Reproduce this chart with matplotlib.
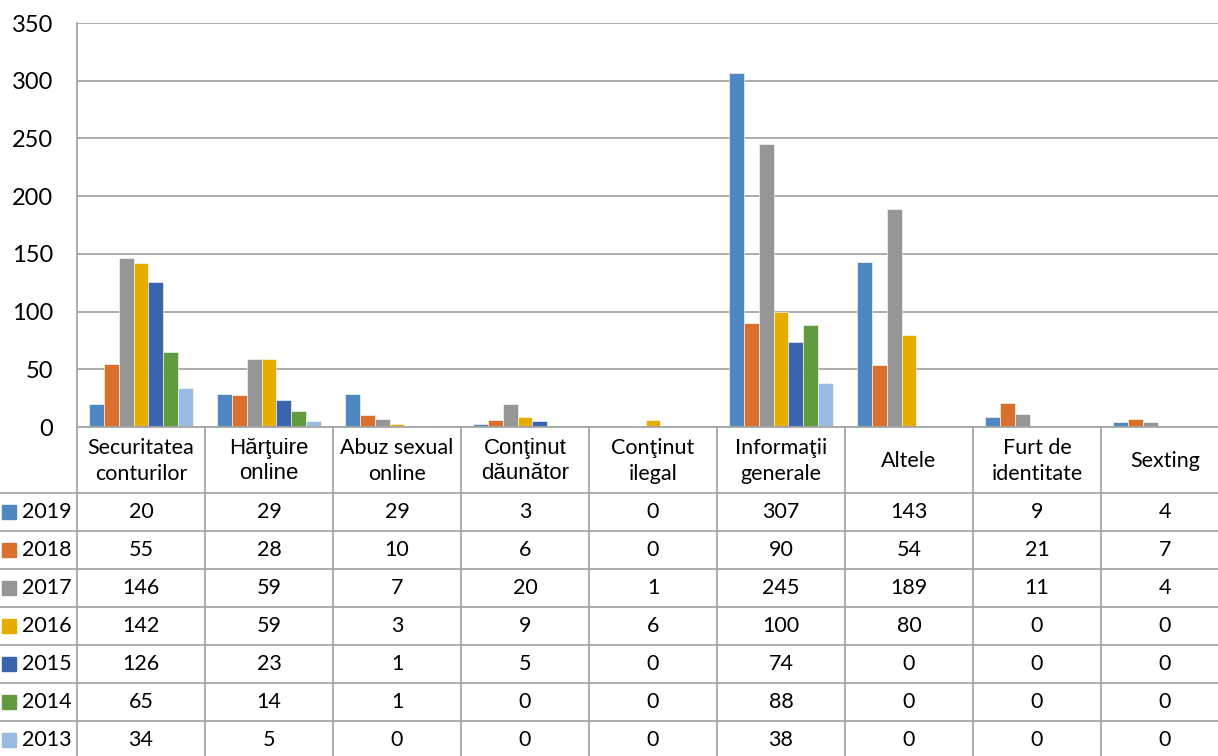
import numpy as np
import matplotlib.pyplot as plt

# categories (header of the data table)
categories = ['Securitatea\nconturilor', 'Hărţuire\nonline', 'Abuz sexual\nonline',
              'Conţinut\ndăunător', 'Conţinut\nilegal', 'Informaţii\ngenerale',
              'Altele', 'Furt de\nidentitate', 'Sexting']
years = ['2019', '2018', '2017', '2016', '2015', '2014', '2013']

v2019 = [20, 29, 29, 3, 0, 307, 143, 9, 4]
v2018 = [55, 28, 10, 6, 0, 90, 54, 21, 7]
v2017 = [146, 59, 7, 20, 1, 245, 189, 11, 4]
v2016 = [142, 59, 3, 9, 6, 100, 80, 0, 0]
v2015 = [126, 23, 1, 5, 0, 74, 0, 0, 0]
v2014 = [65, 14, 1, 0, 0, 88, 0, 0, 0]
v2013 = [34, 5, 0, 0, 0, 38, 0, 0, 0]
series = [v2019, v2018, v2017, v2016, v2015, v2014, v2013]

colors = ['#4f88c0', '#d9702e', '#969696', '#e6ac00', '#3a64ad', '#629a40', '#99bbe0']
line_col = '#a6a6a6'
font = 'Lato'

W, H = 1218, 756
fig = plt.figure(figsize=(W / 100, H / 100), dpi=100)

# pixel layout
x0, colw = 77, 128
y_top, y_zero = 23, 427
y_head_end, rowh = 493, 38

ax = fig.add_axes([x0 / W, (H - y_zero) / H, colw * 9 / W, (y_zero - y_top) / H])
n = len(categories)
x = np.arange(n)
bw = 0.117
for i, (vals, c) in enumerate(zip(series, colors)):
    ax.bar(x + (i - 3) * bw, vals, bw, color=c, edgecolor='white', linewidth=0.4, zorder=3)

ax.set_xlim(-0.5, n - 0.5)
ax.set_ylim(0, 350)
ax.set_yticks(np.arange(0, 351, 50))
ax.set_xticks([])
ax.tick_params(axis='y', length=0, pad=17, labelsize=17)
for lab in ax.get_yticklabels():
    lab.set_family(font)
ax.grid(axis='y', color=line_col, linewidth=1.3, zorder=0)
for s in ['top', 'right', 'bottom']:
    ax.spines[s].set_visible(False)
ax.spines['left'].set_color(line_col)
ax.spines['left'].set_linewidth(1.3)

# data table drawn in pixel coordinates
tab = fig.add_axes([0, 0, 1, 1], zorder=5)
tab.set_xlim(0, W)
tab.set_ylim(H, 0)
tab.axis('off')

x_right = x0 + colw * n
tab.plot([x0, x_right], [y_zero, y_zero], color=line_col, lw=1.3)
row_lines = [y_head_end + k * rowh for k in range(len(years))]
for yl in row_lines:
    tab.plot([0, x_right], [yl, yl], color=line_col, lw=1.3)
for k in range(n + 1):
    xl = x0 + k * colw
    tab.plot([xl, xl], [y_zero, H + 5], color=line_col, lw=1.3)

arial_heads = {'Hărţuire\nonline', 'Conţinut\ndăunător'}
for k, cat in enumerate(categories):
    cx = x0 + (k + 0.5) * colw
    cy = (y_zero + y_head_end) / 2 + 1
    if cat in arial_heads:
        tab.text(cx, cy, cat, ha='center', va='center', fontsize=16,
                 family='Liberation Sans', linespacing=1.2)
    else:
        tab.text(cx, cy, cat, ha='center', va='center', fontsize=15.5,
                 family=font, linespacing=1.4)

for r, (yr, vals, c) in enumerate(zip(years, series, colors)):
    cy = y_head_end + (r + 0.5) * rowh
    tab.add_patch(plt.Rectangle((2, cy - 7), 14, 14, color=c))
    tab.text(22, cy, yr, ha='left', va='center', fontsize=15.5, family=font)
    for k, v in enumerate(vals):
        tab.text(x0 + (k + 0.5) * colw, cy, str(v), ha='center', va='center',
                 fontsize=15.5, family=font)

fig.savefig('out.png', dpi=100)
